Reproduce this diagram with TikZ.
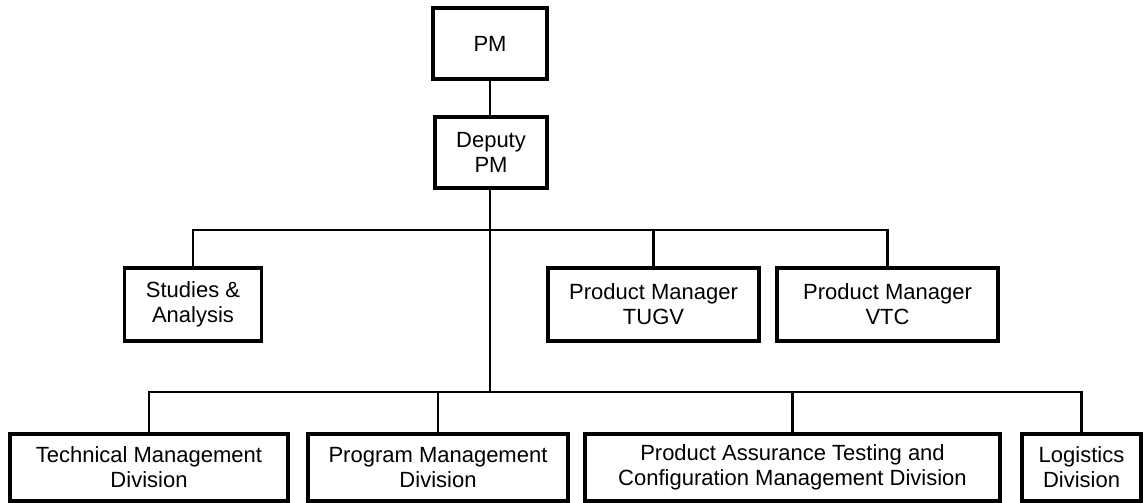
\documentclass[tikz,border=0pt]{standalone}
\usepackage{fontspec}
\setmainfont{Liberation Sans}
\begin{document}
\begin{tikzpicture}[x=1pt,y=-1pt,
  box/.style={draw=black, line width=3.5pt, align=center, inner sep=2pt,
    font=\fontsize{22}{25}\selectfont},
  conn/.style={draw=black, line width=2.8pt}]
\useasboundingbox (0,0) rectangle (1143,503);
\fill[white] (0,0) rectangle (1143,503);
% nodes
\node[box, minimum width=114pt, minimum height=71pt] (pm) at (490,43.5) {PM};
\node[box, minimum width=112pt, minimum height=71pt] (dep) at (491,152.5) {Deputy\\PM};
\node[box, minimum width=137pt, minimum height=73pt] (studies) at (193,304.5) {Studies \&\\Analysis};
\node[box, minimum width=211pt, minimum height=73pt] (tugv) at (653.5,304.5) {Product Manager\\TUGV};
\node[box, minimum width=221pt, minimum height=73pt] (vtc) at (887.5,304.5) {Product Manager\\VTC};
\node[box, minimum width=278pt, minimum height=67pt] (tech) at (149,467.5) {Technical Management\\Division};
\node[box, minimum width=260pt, minimum height=67pt] (prog) at (438,467.5) {Program Management\\Division};
\node[box, minimum width=415pt, minimum height=67pt] (pa) at (792.5,467.5) {Product Assurance Testing and\\Configuration Management Division};
\node[box, minimum width=119pt, minimum height=67pt] (log) at (1081.5,467.5) {Logistics\\Division};
% bus coordinates
\coordinate (bus1) at (490,230);
\coordinate (bus2) at (490,392);
% connectors
\draw[conn] (pm.south) -- (pm.south |- dep.north);
\draw[conn] (pm.south |- dep.south) -- (bus2);
\draw[conn] (studies.north) -- (studies.north |- bus1) -- (vtc.north |- bus1) -- (vtc.north);
\draw[conn] (tugv.north) -- (tugv.north |- bus1);
\draw[conn] (tech.north) -- (tech.north |- bus2) -- (log.north |- bus2) -- (log.north);
\draw[conn] (prog.north) -- (prog.north |- bus2);
\draw[conn] (pa.north) -- (pa.north |- bus2);
\end{tikzpicture}
\end{document}
